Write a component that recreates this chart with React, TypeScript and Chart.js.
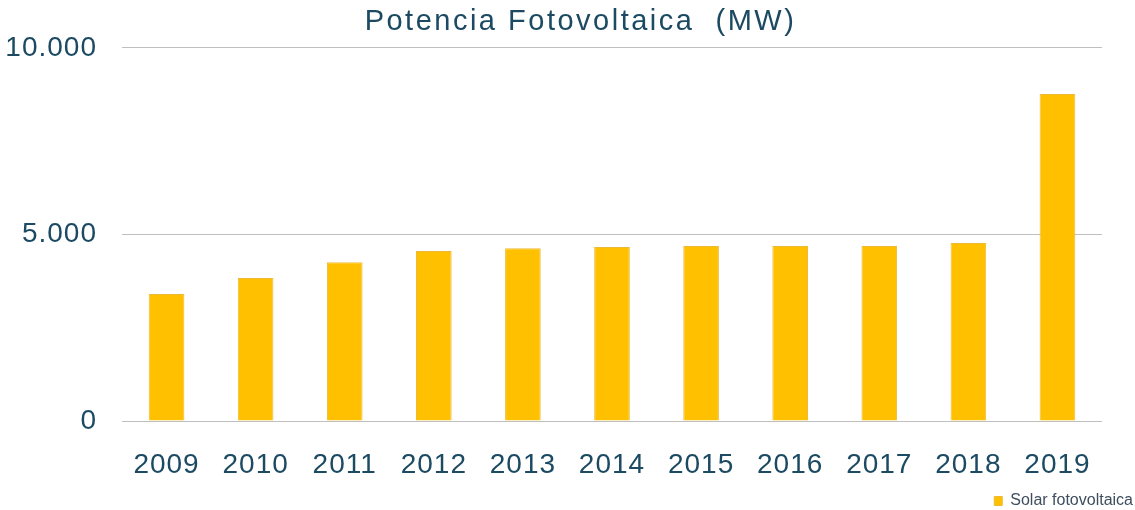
import React, { useEffect, useRef } from 'react';
import { Chart, registerables } from 'chart.js';

Chart.register(...registerables);

const categories = ['2009', '2010', '2011', '2012', '2013', '2014', '2015', '2016', '2017', '2018', '2019'];
const solarValues = [3405, 3834, 4255, 4558, 4630, 4665, 4692, 4692, 4690, 4772, 8759];
const seriesLabel = 'Solar fotovoltaica';
const chartTitle = 'Potencia Fotovoltaica  (MW)';
const yMin = 0;
const yMax = 10000;
const yStep = 5000;

const FONT = "'Liberation Sans', Arial, sans-serif";
const TEXT_COLOR = '#1B4A62';
const BAR_COLOR = '#FFC000';
const GRID_COLOR = '#BFBFBF';

function formatThousands(v: number): string {
  return String(Math.round(v)).replace(/\B(?=(\d{3})+(?!\d))/g, '.');
}

export default function App() {
  const canvasRef = useRef<HTMLCanvasElement | null>(null);

  useEffect(() => {
    if (!canvasRef.current) return;
    const chart: any = new Chart(canvasRef.current, {
      type: 'bar',
      data: {
        labels: categories,
        datasets: [
          {
            label: seriesLabel,
            data: solarValues,
            backgroundColor: BAR_COLOR,
            borderColor: '#EDBA36',
            borderWidth: 1,
            barPercentage: 0.4,
            categoryPercentage: 1,
          },
        ],
      },
      options: {
        responsive: false,
        animation: false,
        layout: { padding: 0 },
        plugins: {
          title: {
            display: true,
            text: chartTitle,
            color: TEXT_COLOR,
            font: { family: FONT, size: 29, weight: 'normal', lineHeight: 1.2 },
            padding: { top: 5, bottom: 8 },
          },
          legend: {
            display: true,
            position: 'bottom',
            align: 'end',
            maxHeight: 19,
            labels: {
              boxWidth: 8,
              boxHeight: 9,
              padding: 2,
              color: '#3E4E5E',
              font: { family: FONT, size: 16 },
            },
          },
          tooltip: { enabled: false },
        },
        scales: {
          x: {
            grid: { display: false },
            border: { display: false },
            ticks: {
              color: TEXT_COLOR,
              font: { family: FONT, size: 28 },
              padding: 19,
              maxRotation: 0,
              autoSkip: false,
            },
            afterFit: (s: any) => {
              s.height = 70;
            },
          },
          y: {
            min: yMin,
            max: yMax,
            ticks: {
              stepSize: yStep,
              padding: 25,
              color: TEXT_COLOR,
              font: { family: FONT, size: 28 },
              callback: (v: any) => formatThousands(Number(v)),
            },
            grid: { color: GRID_COLOR, drawTicks: false, lineWidth: 1 },
            border: { display: false },
            afterFit: (s: any) => {
              s.width = 122;
            },
          },
          yRight: {
            type: 'linear',
            position: 'right',
            display: true,
            grid: { display: false },
            border: { display: false },
            ticks: { display: false },
            afterFit: (s: any) => {
              s.width = 33;
            },
          },
        },
      } as any,
    });

    const patch = (obj: any, key: string, spacing: string, dx: number) => {
      if (!obj || typeof obj[key] !== 'function') return;
      const orig = obj[key].bind(obj);
      obj[key] = (...args: any[]) => {
        const c: any = chart.ctx;
        c.save();
        c.letterSpacing = spacing;
        if (dx) c.translate(dx, 0);
        orig(...args);
        c.restore();
      };
    };
    patch(chart.titleBlock, 'draw', '2.5px', 13);
    patch(chart.scales.x, 'drawLabels', '1px', 0);
    patch(chart.scales.y, 'drawLabels', '1px', 0);
    chart.draw();

    return () => {
      chart.destroy();
    };
  }, []);

  return (
    <div style={{ position: 'absolute', left: 0, top: 0, width: 1135, height: 510, background: '#fff' }}>
      <canvas ref={canvasRef} width={1135} height={510} style={{ display: 'block' }} />
    </div>
  );
}
